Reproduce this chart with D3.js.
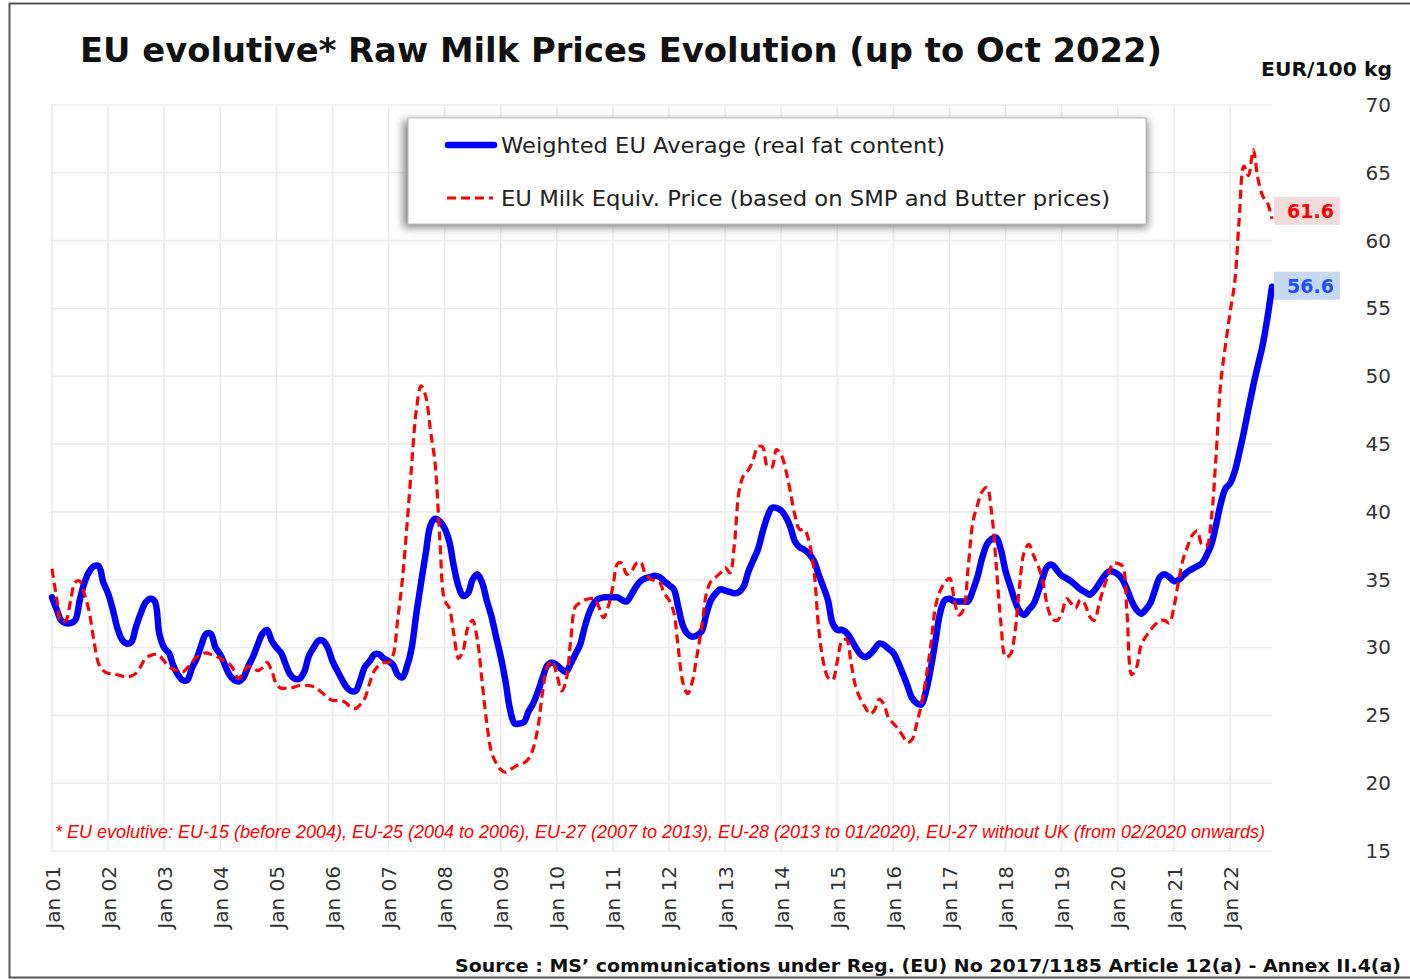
<!DOCTYPE html>
<html><head><meta charset="utf-8">
<script src="https://cdn.jsdelivr.net/npm/d3@7"></script>
<style>
html,body{margin:0;padding:0;background:#fff;}
svg{display:block;}
</style></head>
<body>
<svg id="chart" width="1410" height="980"></svg>
<script>
// ---------- DATA ----------
const title = "EU evolutive* Raw Milk Prices Evolution (up to Oct 2022)";
const unitLabel = "EUR/100 kg";
const seriesNames = ["Weighted EU Average (real fat content)", "EU Milk Equiv. Price (based on SMP and Butter prices)"];
const footnote = "* EU evolutive: EU-15 (before  2004), EU-25 (2004 to 2006), EU-27 (2007 to 2013), EU-28 (2013 to 01/2020), EU-27 without  UK (from  02/2020 onwards)";
const source = "Source : MS\u2019 communications under Reg. (EU) No 2017/1185 Article 12(a) - Annex II.4(a)";
const firstMonth = "2001-01";
const lastMonth = "2022-10";
const xTickLabels = ["Jan 01","Jan 02","Jan 03","Jan 04","Jan 05","Jan 06","Jan 07","Jan 08","Jan 09","Jan 10","Jan 11","Jan 12","Jan 13","Jan 14","Jan 15","Jan 16","Jan 17","Jan 18","Jan 19","Jan 20","Jan 21","Jan 22"];
const yTicks = [15,20,25,30,35,40,45,50,55,60,65,70];

// Weighted EU Average (monthly, Jan 2001 - Oct 2022)
const weightedAvg = [
 33.7,32.8,32.0,31.8,31.8,32.0,33.5,34.8,35.6,36.0,36.0,34.8,
 34.0,32.8,31.5,30.6,30.3,30.4,31.5,32.5,33.3,33.6,33.4,31.0,
 30.0,29.6,28.7,28.0,27.6,27.6,28.5,29.2,30.2,31.0,31.0,30.0,
 29.5,28.7,28.0,27.6,27.5,27.8,28.6,29.3,30.2,31.0,31.3,30.5,
 30.0,29.6,28.8,28.0,27.7,27.7,28.2,29.4,30.0,30.5,30.5,30.0,
 29.0,28.3,27.7,27.1,26.8,26.8,27.6,28.6,29.0,29.5,29.5,29.2,
 29.0,28.7,28.0,27.8,28.6,30.0,32.5,34.8,37.0,39.0,39.5,39.3,
 38.8,37.8,36.0,34.5,33.8,34.0,35.0,35.4,34.8,33.5,32.3,30.8,
 29.3,27.5,25.5,24.4,24.4,24.5,25.3,25.9,26.8,27.8,28.7,28.9,
 28.7,28.4,28.2,28.8,29.5,30.2,31.5,32.6,33.3,33.6,33.7,33.7,
 33.7,33.7,33.5,33.4,33.9,34.5,34.9,35.1,35.2,35.3,35.2,34.9,
 34.6,34.3,33.0,31.6,31.0,30.8,30.9,31.2,32.5,33.5,34.0,34.3,
 34.2,34.1,34.0,34.1,34.5,35.6,36.4,37.2,38.5,39.6,40.3,40.3,
 40.1,39.6,38.9,37.8,37.4,37.2,36.9,36.4,35.4,34.5,33.5,31.8,
 31.3,31.3,31.1,30.6,30.0,29.5,29.3,29.5,29.9,30.3,30.2,29.9,
 29.6,28.9,28.1,27.2,26.3,25.9,25.8,26.8,28.5,30.5,32.6,33.5,
 33.6,33.4,33.4,33.4,33.4,34.2,35.2,36.6,37.6,38.0,38.1,37.2,
 35.6,34.5,33.5,32.7,32.4,32.8,33.2,34.1,35.2,36.0,36.1,35.7,
 35.3,35.1,34.9,34.6,34.3,34.1,33.9,34.2,34.7,35.2,35.6,35.6,
 35.4,35.0,34.3,33.4,32.8,32.5,32.8,33.3,34.3,35.2,35.4,35.2,
 34.9,35.0,35.3,35.6,35.8,36.0,36.2,36.8,37.6,39.0,40.6,41.7,
 42.1,43.0,44.3,45.9,47.6,49.3,50.8,52.3,54.3,56.6
];

// EU Milk Equivalent Price (monthly, Jan 2001 - Oct 2022)
const milkEquiv = [
 35.8,33.6,31.9,32.0,33.4,34.8,34.9,33.9,32.6,30.5,28.8,28.3,
 28.1,28.1,28.0,27.9,27.8,27.9,28.1,28.6,29.2,29.4,29.5,29.4,
 29.0,28.6,28.4,28.3,28.2,28.5,28.9,29.3,29.5,29.6,29.5,29.4,
 29.2,29.0,28.8,28.3,27.7,28.2,28.6,28.5,28.3,28.5,28.9,28.3,
 27.3,27.0,27.0,27.0,27.1,27.2,27.2,27.2,27.1,26.9,26.6,26.3,
 26.1,26.1,26.1,25.9,25.6,25.5,25.8,26.3,27.4,28.3,28.7,28.9,
 28.9,29.5,32.0,35.0,39.0,43.5,47.5,49.3,48.5,46.0,43.5,38.0,
 33.5,32.9,31.0,29.2,29.8,31.5,32.0,30.6,27.5,24.5,22.3,21.5,
 21.0,20.8,21.0,21.2,21.4,21.5,21.8,22.6,24.2,26.8,28.6,29.0,
 28.0,26.8,27.5,30.5,33.0,33.3,33.5,33.6,33.6,33.0,32.2,33.0,
 34.5,36.2,36.2,35.4,35.6,36.2,36.3,35.4,35.1,34.9,34.8,34.0,
 33.5,32.6,30.0,27.4,26.6,27.5,29.4,31.5,34.0,34.9,35.2,35.5,
 35.9,35.5,37.5,41.5,42.7,43.1,43.8,44.8,44.8,43.4,43.3,44.6,
 44.2,43.0,41.5,39.7,38.7,38.7,37.8,35.8,31.5,29.0,27.8,27.6,
 29.0,30.5,30.6,28.8,27.1,26.2,25.6,25.1,25.4,26.2,25.8,24.8,
 24.4,24.0,23.5,23.0,23.2,24.4,25.8,27.8,30.2,33.0,34.2,34.8,
 35.1,33.5,32.4,32.8,35.8,39.2,40.5,41.5,41.8,40.0,36.0,31.8,
 29.3,29.5,31.0,34.5,37.0,37.6,36.8,36.0,34.8,33.0,32.1,32.0,
 32.5,33.6,33.3,32.9,33.5,33.2,32.3,32.0,33.2,34.4,35.4,36.2,
 36.2,36.0,32.5,28.0,28.5,30.2,30.8,31.3,31.7,32.0,32.0,31.8,
 33.0,35.0,36.5,37.5,38.3,38.6,37.6,37.5,39.5,44.0,49.5,52.2,
 54.7,57.0,61.5,65.5,64.8,66.7,64.6,63.3,62.8,61.6
];
const lastValues = ["61.6", "56.6"];

// ---------- DRAW ----------
const svg = d3.select("#chart");
const W = 1410, H = 980;
const parseM = d3.timeParse("%Y-%m");
const months = d3.timeMonth.range(parseM(firstMonth), d3.timeMonth.offset(parseM(lastMonth), 1));

const x = d3.scaleTime().domain([parseM(firstMonth), parseM(lastMonth)]).range([52, 1272]);
const y = d3.scaleLinear().domain([15, 70]).range([851, 105]);

const defs = svg.append("defs");
const f = defs.append("filter").attr("id","shadow").attr("x","-10%").attr("y","-30%").attr("width","120%").attr("height","160%");
f.append("feGaussianBlur").attr("stdDeviation", 4);

svg.append("rect").attr("width", W).attr("height", H).attr("fill", "#fff");
// outer frame
svg.append("rect").attr("x", 9.5).attr("y", 3.5).attr("width", 1420).attr("height", 974)
  .attr("fill","none").attr("stroke","#555").attr("stroke-width",2);

// grid
const yearTicks = d3.timeYear.range(parseM(firstMonth), parseM(lastMonth));
const grid = svg.append("g");
grid.selectAll("line.h").data(yTicks).join("line")
  .attr("x1", 50).attr("x2", 1272).attr("y1", d => y(d)).attr("y2", d => y(d))
  .attr("stroke", "#ececec").attr("stroke-width", 1.6);
grid.selectAll("line.v").data(yearTicks).join("line")
  .attr("x1", d => x(d)).attr("x2", d => x(d)).attr("y1", y(70)).attr("y2", y(15))
  .attr("stroke", "#ececec").attr("stroke-width", 1.6);

// y axis on right
const yAxis = d3.axisRight(y).tickValues(yTicks).tickSize(0).tickPadding(0);
const yg = svg.append("g").attr("transform", "translate(1391,0)").call(yAxis);
yg.select(".domain").remove();
yg.selectAll("text").attr("text-anchor","end").attr("x",0)
  .style("font-family","'DejaVu Sans', Verdana, sans-serif").style("font-size","20px").attr("fill","#333");

// x axis (rotated labels)
const xAxis = d3.axisBottom(x).tickValues(yearTicks).tickSize(0)
  .tickFormat((d,i) => xTickLabels[i]);
const xg = svg.append("g").call(xAxis);
xg.select(".domain").remove();
xg.selectAll("text")
  .attr("transform", "translate(7,866) rotate(-90)")
  .attr("x",0).attr("y",0).attr("dy",0)
  .attr("text-anchor","end")
  .style("font-family","'DejaVu Sans', Verdana, sans-serif").style("font-size","20px").attr("fill","#333");

// lines
const blueData = months.map((m,i) => ({m, v: weightedAvg[i]}));
const redData = months.map((m,i) => ({m, v: milkEquiv[i]}));
const line = d3.line().x(d => x(d.m)).y(d => y(d.v)).curve(d3.curveCatmullRom.alpha(0.5));

svg.append("path").datum(blueData).attr("d", line)
  .attr("fill","none").attr("stroke","#0000ff").attr("stroke-width",6.5)
  .attr("stroke-linejoin","round").attr("stroke-linecap","round");
svg.append("path").datum(redData).attr("d", line)
  .attr("fill","none").attr("stroke","#ff0000").attr("stroke-width",3.2)
  .attr("stroke-dasharray","9,5");

// end value labels
const endLab = [
  {txt: lastValues[0], v: milkEquiv[milkEquiv.length-1], dy: -8, bg:"#f2dcdb", fg:"#ff0000"},
  {txt: lastValues[1], v: weightedAvg[weightedAvg.length-1], dy: -1, bg:"#c6d9f1", fg:"#1f4fff"}
];
endLab.forEach(d => {
  const cy = y(d.v) + d.dy;
  svg.append("rect").attr("x", 1274).attr("y", cy-14).attr("width", 66).attr("height", 28).attr("fill", d.bg);
  svg.append("text").attr("x", 1334).attr("y", cy+7).attr("text-anchor","end")
    .style("font-family","'DejaVu Sans', Verdana, sans-serif").style("font-weight","bold").style("font-size","19px")
    .attr("fill", d.fg).text(d.txt);
});

// legend
const lg = svg.append("g");
lg.append("rect").attr("x", 403).attr("y", 120).attr("width", 745).attr("height", 108)
  .attr("fill","#8a8a8a").attr("filter","url(#shadow)");
lg.append("rect").attr("x", 408).attr("y", 118).attr("width", 738).attr("height", 106)
  .attr("fill","#fff").attr("stroke","#bbb").attr("stroke-width",1);
lg.append("line").attr("x1",448).attr("x2",494).attr("y1",145).attr("y2",145)
  .attr("stroke","#0000ff").attr("stroke-width",6.5).attr("stroke-linecap","round");
lg.append("line").attr("x1",447).attr("x2",493).attr("y1",198).attr("y2",198)
  .attr("stroke","#ff0000").attr("stroke-width",3.2).attr("stroke-dasharray","9,5");
const legLens = [444, 609];
lg.selectAll("text.leg").data(seriesNames).join("text")
  .attr("x", 501).attr("y", (d,i) => 153 + i*53)
  .attr("textLength", (d,i) => legLens[i]).attr("lengthAdjust","spacingAndGlyphs")
  .style("font-family","'DejaVu Sans', Verdana, sans-serif").style("font-size","22px").attr("fill","#222")
  .text(d => d);

// title
svg.append("text").attr("x", 80).attr("y", 62)
  .attr("textLength", 1082).attr("lengthAdjust","spacingAndGlyphs")
  .style("font-family","'DejaVu Sans', Verdana, sans-serif").style("font-weight","bold").style("font-size","34px")
  .attr("fill","#111").text(title);

// unit
svg.append("text").attr("x", 1261).attr("y", 76)
  .attr("textLength", 131).attr("lengthAdjust","spacingAndGlyphs")
  .style("font-family","'DejaVu Sans', Verdana, sans-serif").style("font-weight","bold").style("font-size","19px")
  .attr("fill","#111").text(unitLabel);

// footnote
svg.append("text").attr("x", 55).attr("y", 838)
  .attr("textLength", 1210).attr("lengthAdjust","spacingAndGlyphs")
  .style("font-family","'Liberation Sans Narrow','Liberation Sans', sans-serif").style("font-style","italic").style("font-size","19px")
  .attr("fill","#ff0000").text(footnote);

// source
svg.append("text").attr("x", 455).attr("y", 972)
  .attr("textLength", 946).attr("lengthAdjust","spacingAndGlyphs")
  .style("font-family","'DejaVu Sans', Verdana, sans-serif").style("font-weight","bold").style("font-size","18px")
  .attr("fill","#111").text(source);
</script>
</body></html>
